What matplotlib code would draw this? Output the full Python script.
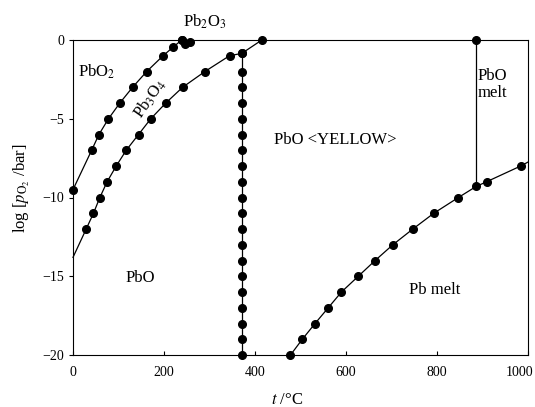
import matplotlib
matplotlib.use("Agg")
import matplotlib.pyplot as plt
from matplotlib.transforms import ScaledTranslation

plt.rcParams['font.family'] = ['Liberation Serif', 'DejaVu Serif']
plt.rcParams['mathtext.fontset'] = 'stix'

# PbO2 / Pb3O4 boundary
pbo2_t = [0, 41, 57, 78, 103, 131, 162, 198, 220, 239]
pbo2_y = [-9.5, -7.0, -6.0, -5.0, -4.0, -3.0, -2.0, -1.0, -0.45, 0.0]

# small Pb2O3 cluster near the top
pb2o3_t = [239, 247, 257]
pb2o3_y = [0.0, -0.25, -0.15]

# Pb3O4 / PbO boundary (first point has no marker)
pb3o4_t = [0, 29, 45, 59, 75, 95, 117, 144, 171, 204, 241, 290, 344, 371, 415]
pb3o4_y = [-13.8, -12, -11, -10, -9, -8, -7, -6, -5, -4, -3, -2, -1, -0.85, 0]

# PbO yellow/red transition (vertical, dotted with markers)
trans_t = 371
trans_y = [-0.85] + list(range(-2, -21, -1))

# PbO melting line
melt_t = 886
melt_y = [0, -9.3]

# Pb melt / PbO boundary
pbm_t = [478, 504, 532, 561, 590, 627, 664, 703, 747, 793, 847, 886, 909, 984, 1000]
pbm_y = [-20, -19, -18, -17, -16, -15, -14, -13, -12, -11, -10, -9.3, -9, -8, -7.75]

fig = plt.figure(figsize=(5.35, 4.07), dpi=100)
ax = fig.add_axes([73/535, 1 - 355/407, 455/535, 315/407])

lw = 0.9
ms = 5.5
mk = dict(marker='o', color='black', markersize=ms, linewidth=lw, clip_on=False, zorder=3)

ax.plot(pbo2_t, pbo2_y, **mk)
ax.plot(pb2o3_t, pb2o3_y, **mk)
ax.plot(pb3o4_t, pb3o4_y, color='black', linewidth=lw, clip_on=False)
ax.plot(pb3o4_t[1:], pb3o4_y[1:], 'o', color='black', markersize=ms, clip_on=False, zorder=3)
ax.plot([trans_t] * len(trans_y), trans_y, **mk)
ax.plot([melt_t, melt_t], melt_y, color='black', linewidth=lw)
ax.plot([melt_t], [melt_y[0]], 'o', color='black', markersize=ms, clip_on=False, zorder=3)
ax.plot(pbm_t, pbm_y, color='black', linewidth=lw, clip_on=False)
ax.plot(pbm_t[:-1], pbm_y[:-1], 'o', color='black', markersize=ms, clip_on=False, zorder=3)

fs = 12
ax.text(53, -2.0, r'PbO$_2$', fontsize=fs, ha='center', va='center')
ax.text(290, 1.15, r'Pb$_2$O$_3$', fontsize=fs, ha='center', va='center', clip_on=False)
ax.text(169, -3.7, r'Pb$_3$O$_4$', fontsize=fs, ha='center', va='center', rotation=55)
ax.text(147, -15.1, 'PbO', fontsize=fs, ha='center', va='center')
ax.text(576, -6.35, 'PbO <YELLOW>', fontsize=fs, ha='center', va='center')
ax.text(922, -2.8, 'PbO\nmelt', fontsize=fs, ha='center', va='center', linespacing=1.1)
ax.text(796, -15.9, 'Pb melt', fontsize=fs, ha='center', va='center')

ax.set_xlim(0, 1000)
ax.set_ylim(-20, 0)
ax.set_xticks([0, 200, 400, 600, 800, 1000])
ax.set_yticks([0, -5, -10, -15, -20])
ax.tick_params(axis='x', direction='in', length=3, labelsize=10, pad=8)
ax.tick_params(axis='y', direction='out', length=3, labelsize=10)
for s in ax.spines.values():
    s.set_linewidth(0.8)

# pull the last tick label in so it stays inside the picture
last = ax.get_xticklabels()[-1]
last.set_transform(last.get_transform() + ScaledTranslation(-8/100, 0, fig.dpi_scale_trans))

ax.set_xlabel(r'$t$ /°C', fontsize=12)
ax.xaxis.set_label_coords((287 - 73) / 455, -(392 - 355) / 315)
ax.set_ylabel(r'log [$p_{\mathrm{O_2}}$ /bar]', fontsize=12)
ax.yaxis.set_label_coords(-(73 - 32) / 455, (355 - 188) / 315)

fig.savefig('out.png', dpi=100)
